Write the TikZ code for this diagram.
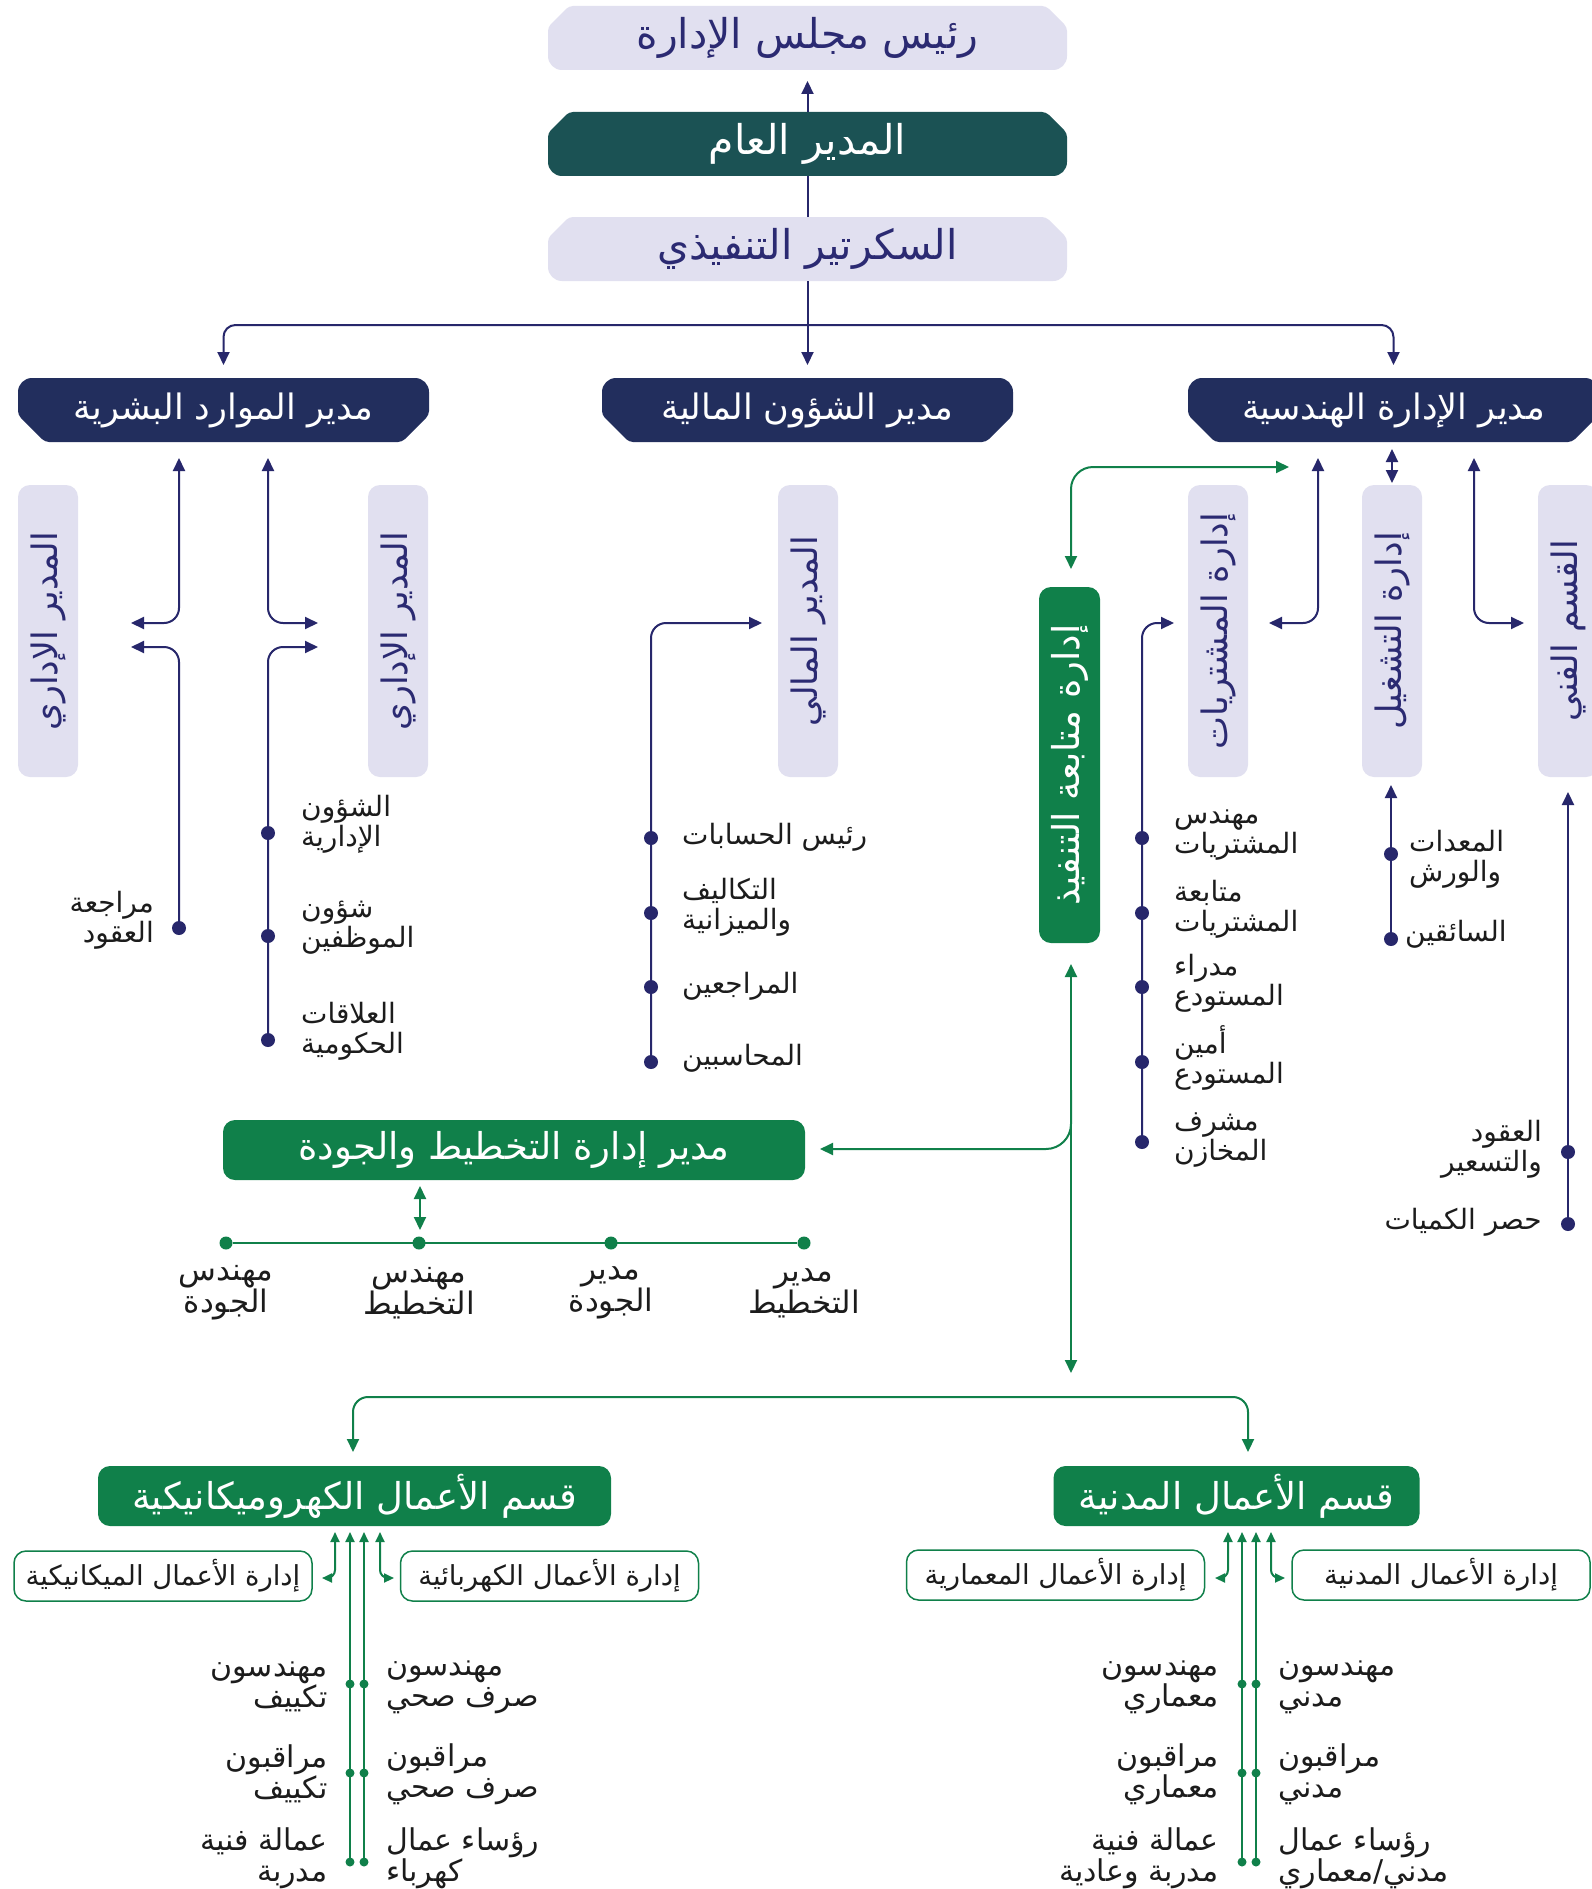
\documentclass[tikz,border=0pt]{standalone}
\usepackage{fontspec}
\usetikzlibrary{arrows.meta,calc,backgrounds}
\TeXXeTstate=1
\newfontfamily\arabicfont[Script=Arabic]{DejaVu Sans}
\newcommand\A[1]{\beginR#1\endR}
\newcommand\fT{\arabicfont\fontsize{41}{46}\selectfont}
\newcommand\fR{\arabicfont\fontsize{35}{40}\selectfont}
\newcommand\fG{\arabicfont\fontsize{37}{42}\selectfont}
\newcommand\fV{\arabicfont\fontsize{35}{40}\selectfont}
\newcommand\fL{\arabicfont\fontsize{28}{30}\selectfont}
\newcommand\fQ{\arabicfont\fontsize{31}{30}\selectfont}
\newcommand\fO{\arabicfont\fontsize{27.5}{30}\selectfont}
\newcommand\fLL{\arabicfont\fontsize{30}{31}\selectfont}
\definecolor{lav}{HTML}{E1E0F0}
\definecolor{navybox}{HTML}{222E5D}
\definecolor{gmteal}{HTML}{1B5254}
\definecolor{grnc}{HTML}{10804A}
\definecolor{navline}{HTML}{27276B}
\definecolor{navtext}{HTML}{2B2A72}
\definecolor{lblc}{HTML}{1C1C1C}
\newcommand\shapeTop[2]{\fill[#2, rounded corners=4pt] (#1.north) -- ($(#1.north east)+(-21,0)$) -- ($(#1.north east)+(0,21)$) [rounded corners=14pt] -- (#1.south east) -- (#1.south west) [rounded corners=4pt] -- ($(#1.north west)+(0,21)$) -- ($(#1.north west)+(21,0)$) -- cycle;}
\newcommand\shapeBot[2]{\fill[#2, rounded corners=14pt] (#1.north) -- (#1.north east) [rounded corners=4pt] -- ($(#1.south east)+(0,-27)$) -- ($(#1.south east)+(-27,0)$) -- ($(#1.south west)+(27,0)$) -- ($(#1.south west)+(0,-27)$) [rounded corners=14pt] -- (#1.north west) -- cycle;}
\tikzset{
  nl/.style={draw=navline, line width=2pt},
  gl/.style={draw=grnc, line width=2pt},
  ta/.style={-{Triangle[length=13pt,width=12pt]}},
  tab/.style={{Triangle[length=13pt,width=12pt]}-{Triangle[length=13pt,width=12pt]}},
  tas/.style={{Triangle[length=13pt,width=12pt]}-},
  sa/.style={-{Triangle[length=10pt,width=9pt]}},
  sab/.style={{Triangle[length=10pt,width=9pt]}-{Triangle[length=10pt,width=9pt]}},
  sas/.style={{Triangle[length=10pt,width=9pt]}-},
  topbox/.style={minimum width=519pt, minimum height=64pt, font=\fT, inner sep=0pt, outer sep=0pt},
  rowbox/.style={minimum width=411pt, minimum height=64pt, font=\fR, inner sep=0pt, outer sep=0pt, text=white},
  vbox/.style={rotate=90, minimum width=292pt, minimum height=60pt, fill=lav, rounded corners=12pt, text=navtext, font=\fV, inner sep=0pt, outer sep=0pt},
  gbox/.style={minimum height=60pt, fill=grnc, rounded corners=12pt, text=white, font=\fG, inner sep=0pt, outer sep=0pt},
  obox/.style={minimum width=298pt, minimum height=50pt, draw=grnc, line width=1.5pt, fill=white, rounded corners=12pt, text=lblc, font=\fO, inner sep=0pt, outer sep=0pt},
  ndot/.style={circle, fill=navline, inner sep=0pt, minimum size=14pt},
  gdot/.style={circle, fill=grnc, inner sep=0pt, minimum size=13pt},
  sdot/.style={circle, fill=grnc, inner sep=0pt, minimum size=9pt},
  lw/.style={anchor=west, align=left, font=\fL, text=lblc, inner sep=0pt},
  le/.style={anchor=east, align=right, font=\fL, text=lblc, inner sep=0pt},
  lc/.style={anchor=center, align=center, font=\fQ, text=lblc, inner sep=0pt},
  lww/.style={anchor=west, align=left, font=\fLL, text=lblc, inner sep=0pt},
  lee/.style={anchor=east, align=right, font=\fLL, text=lblc, inner sep=0pt}
}
\begin{document}
\begin{tikzpicture}[x=1pt,y=-1pt]
\useasboundingbox (0,0) rectangle (1591,1889);
% ---------- top boxes
\node[topbox, text=navtext] (board) at (807.5,38) {\A{رئيس مجلس الإدارة}};
\node[topbox, text=white] (gm) at (807.5,144) {\A{المدير العام}};
\node[topbox, text=navtext] (sec) at (807.5,249) {\A{السكرتير التنفيذي}};
% ---------- row 2
\node[rowbox] (hr) at (223.5,410) {\A{مدير الموارد البشرية}};
\node[rowbox] (fin) at (807.5,410) {\A{مدير الشؤون المالية}};
\node[rowbox] (eng) at (1393.5,410) {\A{مدير الإدارة الهندسية}};
% ---------- vertical boxes
\node[vbox] (adm1) at (48,631) {\A{المدير الإداري}};
\node[vbox] (adm2) at (398,631) {\A{المدير الإداري}};
\node[vbox] (finm) at (808,631) {\A{المدير المالي}};
\node[vbox] (purch) at (1218,631) {\A{إدارة المشتريات}};
\node[vbox] (oper) at (1392,631) {\A{إدارة التشغيل}};
\node[vbox] (tech) at (1568,631) {\A{القسم الفني}};
\node[vbox, fill=grnc, text=white, minimum width=356pt, minimum height=61pt, font=\fG] (follow) at (1069.5,765) {\A{إدارة متابعة التنفيذ}};
% ---------- green boxes
\node[gbox, minimum width=582pt] (plan) at (514,1150) {\A{مدير إدارة التخطيط والجودة}};
\node[gbox, minimum width=513pt] (em) at (354.5,1496) {\A{قسم الأعمال الكهروميكانيكية}};
\node[gbox, minimum width=366pt] (civ) at (1236.5,1496) {\A{قسم الأعمال المدنية}};
\node[obox] (mech) at (163,1576) {\A{إدارة الأعمال الميكانيكية}};
\node[obox] (elec) at (549.5,1576) {\A{إدارة الأعمال الكهربائية}};
\node[obox] (arch) at (1055.5,1575) {\A{إدارة الأعمال المعمارية}};
\node[obox] (civd) at (1441,1575) {\A{إدارة الأعمال المدنية}};
% ---------- backgrounds of custom shapes
\begin{scope}[on background layer]
  \fill[white] (0,0) rectangle (1591,1889);
  \shapeTop{board}{lav}
  \shapeTop{gm}{gmteal}
  \shapeTop{sec}{lav}
  \shapeBot{hr}{navybox}
  \shapeBot{fin}{navybox}
  \shapeBot{eng}{navybox}
\end{scope}
% ---------- top connectors
\draw[nl, ta, shorten >=11pt] (gm.north) -- (board.south);
\draw[nl] (sec.north) -- (gm.south);
\draw[nl, ta, shorten >=13pt] (sec.south) -- (fin.north);
\coordinate (bus) at (807.5,325);
\draw[nl, ta, rounded corners=12pt, shorten >=13pt] (bus) -| (hr.north);
\draw[nl, ta, rounded corners=12pt, shorten >=13pt] (bus) -| (eng.north);
% ---------- HR
\coordinate (hrL) at (179,458);
\coordinate (hrR) at (268,458);
\coordinate (hrLa) at (131,623);
\coordinate (hrLb) at (131,647);
\coordinate (hrRa) at (318,623);
\coordinate (hrRb) at (318,647);
\node[ndot] (hd0) at (179,928) {};
\node[ndot] (hd1) at (268,833) {};
\node[ndot] (hd2) at (268,936) {};
\node[ndot] (hd3) at (268,1040) {};
\draw[nl, tab, rounded corners=15pt] (hrLa) -- (hrLa -| hrL) -- (hrL);
\draw[nl, tas, rounded corners=15pt] (hrLb) -- (hrLb -| hd0) -- (hd0.center);
\draw[nl, tab, rounded corners=15pt] (hrRa) -- (hrRa -| hrR) -- (hrR);
\draw[nl, tas, rounded corners=15pt] (hrRb) -- (hrRb -| hd3) -- (hd3.center);
\node[le] (t_hr0) at (154,920) {\A{مراجعة}\\\A{العقود}};
\node[lw] (t_hr1) at (301,824) {\A{الشؤون}\\\A{الإدارية}};
\node[lw] (t_hr2) at (301,928) {\A{شؤون}\\\A{الموظفين}};
\node[lw] (t_hr3) at (301,1031) {\A{العلاقات}\\\A{الحكومية}};
% ---------- Finance
\coordinate (finA) at (762,623);
\node[ndot] (fd1) at (651,838) {};
\node[ndot] (fd2) at (651,913) {};
\node[ndot] (fd3) at (651,987) {};
\node[ndot] (fd4) at (651,1062) {};
\draw[nl, ta, rounded corners=15pt] (fd4.center) -- (fd4 |- finA) -- (finA);
\node[lw] (t_f1) at (682,837) {\A{رئيس الحسابات}};
\node[lw] (t_f2) at (682,907) {\A{التكاليف}\\\A{والميزانية}};
\node[lw] (t_f3) at (682,986) {\A{المراجعين}};
\node[lw] (t_f4) at (682,1058) {\A{المحاسبين}};
% ---------- Engineering
\coordinate (gT) at (1071,569);
\coordinate (gR) at (1289,467);
\draw[gl, tab, rounded corners=22pt] (gT) -- (gT |- gR) -- (gR);
\coordinate (eA) at (1318,458);
\coordinate (eAl) at (1269,623);
\draw[nl, tab, rounded corners=15pt] (eAl) -- (eAl -| eA) -- (eA);
\draw[nl, tab, shorten <=7pt, shorten >=2pt] (eng.south -| oper) -- (oper.east);
\coordinate (eB) at (1474,458);
\coordinate (eBr) at (1524,623);
\draw[nl, tab, rounded corners=15pt] (eBr) -- (eBr -| eB) -- (eB);
% purchasing list
\coordinate (pA) at (1174,623);
\node[ndot] (pd1) at (1142,838) {};
\node[ndot] (pd2) at (1142,913) {};
\node[ndot] (pd3) at (1142,987) {};
\node[ndot] (pd4) at (1142,1062) {};
\node[ndot] (pd5) at (1142,1142) {};
\draw[nl, ta, rounded corners=15pt] (pd5.center) -- (pd5 |- pA) -- (pA);
\node[lw] (t_p1) at (1174,835) {\A{مهندس}\\\A{المشتريات}};
\node[lw] (t_p2) at (1174,909) {\A{متابعة}\\\A{المشتريات}};
\node[lw] (t_p3) at (1174,983) {\A{مدراء}\\\A{المستودع}};
\node[lw] (t_p4) at (1174,1058) {\A{أمين}\\\A{المستودع}};
\node[lw] (t_p5) at (1174,1140) {\A{مشرف}\\\A{المخازن}};
% operations
\node[ndot] (od1) at (1391,854) {};
\node[ndot] (od2) at (1391,939) {};
\draw[nl, ta, shorten >=8pt] (od2.center) -- (od2 |- oper.west);
\node[lw] (t_o1) at (1409,859) {\A{المعدات}\\\A{والورش}};
\node[lw] (t_o2) at (1405,934) {\A{السائقين}};
% technical
\node[ndot] (td1) at (1568,1152) {};
\node[ndot] (td2) at (1568,1224) {};
\draw[nl, ta, shorten >=15pt] (td2.center) -- (tech.west);
\node[le] (t_t1) at (1542,1149) {\A{العقود}\\\A{والتسعير}};
\node[le] (t_t2) at (1542,1222) {\A{حصر الكميات}};
% ---------- green follow-up line
\coordinate (gU) at (1071,964);
\coordinate (gD) at (1071,1373);
\draw[gl, tab] (gU) -- (gD);
\coordinate (gP) at (820,1149);
\draw[gl, ta, rounded corners=25pt] (1071,1090) -- (gU |- gP) -- (gP);
% ---------- planning
\draw[gl, tab] (420,1186) -- (420,1230);
\node[gdot] (q1) at (226,1243) {};
\node[gdot] (q2) at (419,1243) {};
\node[gdot] (q3) at (611,1243) {};
\node[gdot] (q4) at (804,1243) {};
\draw[gl] (q1) -- (q4);
\node[lc] (t_q1) at (226,1293) {\A{مهندس}\\\A{الجودة}};
\node[lc] (t_q2) at (419,1293) {\A{مهندس}\\\A{التخطيط}};
\node[lc] (t_q3) at (611,1293) {\A{مدير}\\\A{الجودة}};
\node[lc] (t_q4) at (804,1293) {\A{مدير}\\\A{التخطيط}};
% ---------- lower bus
\coordinate (bL) at (353,1452);
\coordinate (bR) at (1248,1452);
\draw[gl, tab, rounded corners=15pt] (bL) -- (353,1397) -- (1248,1397) -- (bR);
% ---------- electro-mechanical
\draw[gl, sab, rounded corners=8pt] (335,1532) -- (335,1578) -- (322,1578);
\draw[gl, sab, rounded corners=8pt] (380,1532) -- (380,1578) -- (394,1578);
\foreach \x/\n in {350/a,364/b}{
  \node[sdot] (em\n1) at (\x,1684) {};
  \node[sdot] (em\n2) at (\x,1773) {};
  \node[sdot] (em\n3) at (\x,1862) {};
  \draw[gl, sas] (\x,1532) -- (em\n3.center);
}
\node[lee] at (328,1687) {\A{مهندسون}\\\A{تكييف}};
\node[lee] at (328,1774) {\A{مراقبون}\\\A{تكييف}};
\node[lee] at (328,1858) {\A{عمالة فنية}\\\A{مدربة}};
\node[lww] at (386,1687) {\A{مهندسون}\\\A{صرف صحي}};
\node[lww] at (386,1774) {\A{مراقبون}\\\A{صرف صحي}};
\node[lww] at (386,1858) {\A{رؤساء عمال}\\\A{كهرباء}};
% ---------- civil
\draw[gl, sab, rounded corners=8pt] (1228,1532) -- (1228,1578) -- (1215,1578);
\draw[gl, sab, rounded corners=8pt] (1271,1532) -- (1271,1578) -- (1285,1578);
\foreach \x/\n in {1242/a,1256/b}{
  \node[sdot] (cv\n1) at (\x,1684) {};
  \node[sdot] (cv\n2) at (\x,1773) {};
  \node[sdot] (cv\n3) at (\x,1862) {};
  \draw[gl, sas] (\x,1532) -- (cv\n3.center);
}
\node[lee] at (1219,1687) {\A{مهندسون}\\\A{معماري}};
\node[lee] at (1219,1774) {\A{مراقبون}\\\A{معماري}};
\node[lee] at (1219,1858) {\A{عمالة فنية}\\\A{مدربة وعادية}};
\node[lww] at (1278,1687) {\A{مهندسون}\\\A{مدني}};
\node[lww] at (1278,1774) {\A{مراقبون}\\\A{مدني}};
\node[lww] at (1278,1858) {\A{رؤساء عمال}\\\A{مدني/معماري}};
\end{tikzpicture}
\end{document}
